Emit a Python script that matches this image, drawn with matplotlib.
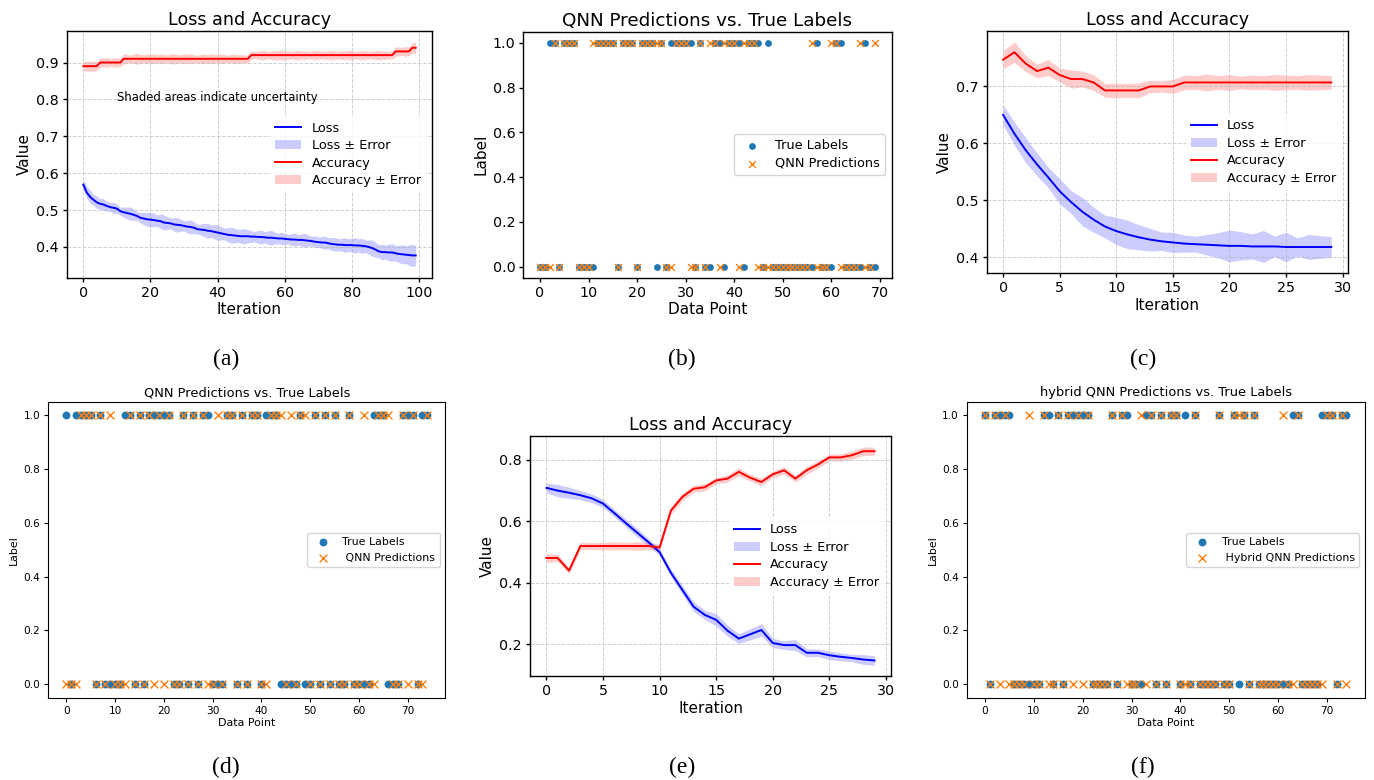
import matplotlib
matplotlib.use("Agg")
import matplotlib.pyplot as plt
import numpy as np

W, H, DPI = 1374, 780, 100

# ---------------- (a) 100-iteration run ----------------
iter_a = np.arange(100)
loss_a = [0.569, 0.548, 0.536, 0.528, 0.521, 0.517, 0.515, 0.511, 0.508, 0.506,
          0.504, 0.497, 0.494, 0.492, 0.490, 0.487, 0.484, 0.479, 0.477, 0.475,
          0.474, 0.473, 0.471, 0.470, 0.466, 0.465, 0.464, 0.461, 0.460, 0.459,
          0.457, 0.455, 0.454, 0.452, 0.448, 0.447, 0.446, 0.444, 0.443, 0.441,
          0.439, 0.437, 0.435, 0.433, 0.432, 0.431, 0.430, 0.429, 0.429, 0.429,
          0.428, 0.428, 0.427, 0.427, 0.426, 0.425, 0.425, 0.424, 0.423, 0.423,
          0.422, 0.421, 0.420, 0.420, 0.419, 0.419, 0.418, 0.417, 0.416, 0.414,
          0.413, 0.412, 0.412, 0.410, 0.408, 0.407, 0.406, 0.406, 0.405, 0.405,
          0.405, 0.404, 0.404, 0.403, 0.402, 0.400, 0.397, 0.393, 0.388, 0.386,
          0.386, 0.385, 0.385, 0.383, 0.381, 0.380, 0.379, 0.378, 0.377, 0.377]
loss_err_a = [0.014, 0.016, 0.018, 0.015, 0.017, 0.014, 0.016, 0.013, 0.012, 0.015,
              0.013, 0.011, 0.014, 0.016, 0.018, 0.015, 0.012, 0.014, 0.017, 0.019,
              0.020, 0.018, 0.016, 0.019, 0.021, 0.017, 0.015, 0.018, 0.020, 0.016,
              0.014, 0.017, 0.019, 0.016, 0.013, 0.015, 0.018, 0.020, 0.017, 0.019,
              0.021, 0.018, 0.016, 0.019, 0.022, 0.020, 0.017, 0.019, 0.021, 0.018,
              0.016, 0.014, 0.017, 0.019, 0.015, 0.018, 0.020, 0.016, 0.014, 0.017,
              0.015, 0.013, 0.016, 0.018, 0.014, 0.017, 0.019, 0.015, 0.013, 0.016,
              0.014, 0.016, 0.018, 0.015, 0.017, 0.019, 0.016, 0.018, 0.020, 0.017,
              0.019, 0.021, 0.018, 0.020, 0.017, 0.019, 0.022, 0.020, 0.018, 0.021,
              0.019, 0.022, 0.024, 0.021, 0.023, 0.026, 0.024, 0.028, 0.030, 0.027]
acc_a = [0.89, 0.89, 0.89, 0.89, 0.89, 0.90, 0.90, 0.90, 0.90, 0.90,
         0.90, 0.90, 0.91, 0.91, 0.91, 0.91, 0.91, 0.91, 0.91, 0.91,
         0.91, 0.91, 0.91, 0.91, 0.91, 0.91, 0.91, 0.91, 0.91, 0.91,
         0.91, 0.91, 0.91, 0.91, 0.91, 0.91, 0.91, 0.91, 0.91, 0.91,
         0.91, 0.91, 0.91, 0.91, 0.91, 0.91, 0.91, 0.91, 0.91, 0.91,
         0.92, 0.92, 0.92, 0.92, 0.92, 0.92, 0.92, 0.92, 0.92, 0.92,
         0.92, 0.92, 0.92, 0.92, 0.92, 0.92, 0.92, 0.92, 0.92, 0.92,
         0.92, 0.92, 0.92, 0.92, 0.92, 0.92, 0.92, 0.92, 0.92, 0.92,
         0.92, 0.92, 0.92, 0.92, 0.92, 0.92, 0.92, 0.92, 0.92, 0.92,
         0.92, 0.92, 0.92, 0.93, 0.93, 0.93, 0.93, 0.93, 0.94, 0.94]
acc_err_a = [0.012, 0.014, 0.013, 0.015, 0.011, 0.013, 0.012, 0.014, 0.010, 0.012,
             0.013, 0.011, 0.014, 0.012, 0.010, 0.013, 0.015, 0.012, 0.011, 0.013,
             0.012, 0.014, 0.011, 0.013, 0.012, 0.010, 0.013, 0.014, 0.012, 0.011,
             0.013, 0.012, 0.014, 0.011, 0.010, 0.012, 0.013, 0.011, 0.014, 0.012,
             0.011, 0.013, 0.012, 0.010, 0.012, 0.013, 0.011, 0.012, 0.010, 0.011,
             0.012, 0.010, 0.011, 0.013, 0.012, 0.010, 0.011, 0.013, 0.012, 0.014,
             0.012, 0.011, 0.010, 0.012, 0.013, 0.011, 0.012, 0.010, 0.011, 0.013,
             0.012, 0.010, 0.011, 0.012, 0.013, 0.011, 0.010, 0.012, 0.011, 0.013,
             0.012, 0.010, 0.011, 0.013, 0.012, 0.010, 0.011, 0.012, 0.013, 0.011,
             0.012, 0.010, 0.011, 0.013, 0.012, 0.011, 0.013, 0.012, 0.014, 0.015]

# ---------------- (b) QNN predictions, 70 samples ----------------
true_b = [0, 0, 1, 1, 0, 1, 1, 1, 0, 0,
          0, 0, 1, 1, 1, 1, 0, 1, 1, 1,
          0, 1, 1, 1, 0, 1, 0, 1, 1, 1,
          1, 1, 0, 1, 0, 0, 1, 1, 0, 1,
          1, 1, 0, 1, 1, 1, 0, 1, 0, 0,
          0, 0, 0, 0, 0, 0, 0, 1, 0, 0,
          0, 1, 1, 0, 0, 0, 0, 1, 0, 0]
pred_b = [0, 0, 0, 1, 0, 1, 1, 1, 0, 0,
          0, 1, 1, 1, 1, 1, 0, 1, 1, 1,
          0, 1, 1, 1, 1, 1, 0, 0, 1, 1,
          1, 0, 0, 1, 0, 1, 1, 0, 1, 1,
          1, 0, 1, 1, 1, 0, 0, 0, 0, 0,
          0, 0, 0, 0, 0, 0, 1, 0, 0, 0,
          1, 1, 0, 0, 0, 0, 1, 0, 0, 1]

# ---------------- (c) 30-iteration run ----------------
iter_c = np.arange(30)
loss_c = [0.650, 0.617, 0.588, 0.563, 0.540, 0.516, 0.497, 0.480, 0.466, 0.454,
          0.446, 0.440, 0.435, 0.431, 0.428, 0.426, 0.424, 0.423, 0.422, 0.421,
          0.420, 0.420, 0.419, 0.419, 0.419, 0.418, 0.418, 0.418, 0.418, 0.418]
loss_err_c = [0.018, 0.020, 0.022, 0.020, 0.018, 0.022, 0.020, 0.025, 0.022, 0.020,
              0.024, 0.025, 0.022, 0.020, 0.016, 0.018, 0.015, 0.014, 0.018, 0.022,
              0.028, 0.025, 0.022, 0.028, 0.018, 0.026, 0.016, 0.022, 0.020, 0.018]
acc_c = [0.747, 0.760, 0.740, 0.727, 0.733, 0.720, 0.713, 0.713, 0.707, 0.693,
         0.693, 0.693, 0.693, 0.700, 0.700, 0.700, 0.707, 0.707, 0.707, 0.707,
         0.707, 0.707, 0.707, 0.707, 0.707, 0.707, 0.707, 0.707, 0.707, 0.707]
acc_err_c = [0.016, 0.018, 0.014, 0.012, 0.014, 0.012, 0.016, 0.014, 0.014, 0.012,
             0.013, 0.012, 0.013, 0.011, 0.010, 0.012, 0.013, 0.012, 0.015, 0.012,
             0.014, 0.011, 0.013, 0.012, 0.014, 0.013, 0.012, 0.014, 0.013, 0.012]

# ---------------- (d) QNN predictions, 75 samples ----------------
true_d = [1, 0, 1, 1, 1, 1, 0, 1, 0, 0,
          0, 0, 1, 1, 0, 1, 0, 1, 1, 1,
          1, 1, 0, 0, 1, 0, 1, 0, 1, 1,
          0, 0, 0, 1, 1, 0, 1, 0, 1, 1,
          0, 1, 1, 1, 0, 0, 0, 0, 1, 0,
          0, 1, 0, 1, 0, 1, 0, 0, 1, 0,
          0, 0, 0, 1, 1, 1, 0, 0, 0, 1,
          1, 1, 0, 1, 1]
pred_d = [0, 0, 0, 1, 1, 1, 0, 1, 0, 1,
          0, 0, 0, 1, 0, 1, 0, 1, 0, 1,
          0, 1, 0, 0, 1, 0, 1, 0, 1, 0,
          0, 1, 0, 1, 1, 0, 1, 0, 1, 1,
          0, 0, 1, 1, 1, 0, 1, 0, 1, 1,
          0, 1, 0, 1, 0, 1, 0, 0, 1, 0,
          0, 1, 0, 0, 1, 1, 1, 0, 0, 1,
          0, 1, 0, 0, 1]

# ---------------- (e) 30-iteration run ----------------
iter_e = np.arange(30)
loss_e = [0.709, 0.700, 0.693, 0.685, 0.675, 0.658, 0.627, 0.595, 0.564, 0.533,
          0.500, 0.433, 0.378, 0.323, 0.296, 0.280, 0.245, 0.219, 0.233, 0.247,
          0.205, 0.198, 0.198, 0.173, 0.173, 0.165, 0.160, 0.156, 0.151, 0.148]
loss_err_e = [0.016, 0.020, 0.018, 0.015, 0.014, 0.013, 0.012, 0.013, 0.014, 0.012,
              0.010, 0.012, 0.014, 0.016, 0.015, 0.020, 0.018, 0.016, 0.018, 0.020,
              0.015, 0.014, 0.018, 0.013, 0.012, 0.014, 0.013, 0.012, 0.016, 0.015]
acc_e = [0.481, 0.481, 0.440, 0.520, 0.520, 0.520, 0.520, 0.520, 0.520, 0.520,
         0.515, 0.635, 0.679, 0.706, 0.711, 0.733, 0.739, 0.761, 0.742, 0.728,
         0.753, 0.766, 0.739, 0.766, 0.785, 0.808, 0.808, 0.815, 0.828, 0.828]
acc_err_e = [0.014, 0.012, 0.010, 0.012, 0.011, 0.012, 0.013, 0.012, 0.014, 0.012,
             0.010, 0.012, 0.013, 0.011, 0.012, 0.010, 0.012, 0.013, 0.011, 0.012,
             0.010, 0.012, 0.011, 0.013, 0.012, 0.011, 0.012, 0.013, 0.014, 0.013]
yticks_e = [0.2, 0.4, 0.6, 0.8]

# ---------------- (f) hybrid QNN predictions, 75 samples ----------------
true_f = [1, 0, 1, 1, 1, 1, 0, 0, 0, 0,
          0, 0, 1, 1, 0, 1, 0, 1, 1, 1,
          1, 1, 0, 0, 0, 0, 1, 0, 1, 1,
          0, 0, 0, 1, 1, 0, 1, 0, 1, 1,
          0, 1, 0, 1, 0, 0, 0, 0, 1, 0,
          0, 1, 0, 1, 0, 1, 0, 0, 0, 0,
          0, 0, 0, 1, 1, 0, 0, 0, 0, 1,
          1, 1, 0, 1, 1]
pred_f = [1, 0, 1, 0, 1, 0, 0, 0, 0, 1,
          0, 0, 1, 0, 0, 1, 0, 1, 0, 1,
          0, 1, 0, 0, 0, 0, 1, 0, 1, 0,
          0, 0, 1, 0, 1, 0, 1, 0, 1, 1,
          0, 0, 0, 1, 0, 0, 0, 0, 1, 0,
          0, 1, 1, 1, 0, 1, 0, 0, 0, 0,
          0, 1, 0, 0, 1, 0, 0, 0, 0, 0,
          1, 1, 0, 1, 0]

captions = ["(a)", "(b)", "(c)", "(d)", "(e)", "(f)"]

fig = plt.figure(figsize=(W / DPI, H / DPI), dpi=DPI)


def axes_px(left, top, right, bottom):
    return fig.add_axes([left / W, 1 - bottom / H, (right - left) / W, (bottom - top) / H])


def style_axes(ax, tick_fs, frame_lw):
    for s in ax.spines.values():
        s.set_linewidth(frame_lw)
    ax.tick_params(labelsize=tick_fs, length=3, width=frame_lw, pad=2.7)


def curve_panel(ax, x, loss, loss_err, acc, acc_err, note=None):
    loss = np.asarray(loss); loss_err = np.asarray(loss_err)
    acc = np.asarray(acc); acc_err = np.asarray(acc_err)
    ax.plot(x, loss, color="blue", lw=1.4, label="Loss")
    ax.fill_between(x, loss - loss_err, loss + loss_err, color="blue", alpha=0.2,
                    linewidth=0, label="Loss ± Error")
    ax.plot(x, acc, color="red", lw=1.4, label="Accuracy")
    ax.fill_between(x, acc - acc_err, acc + acc_err, color="red", alpha=0.2,
                    linewidth=0, label="Accuracy ± Error")
    ax.grid(True, linestyle="--", color="#b0b0b0", alpha=0.6, lw=0.7)
    ax.set_title("Loss and Accuracy", fontsize=12.6, pad=4.2)
    ax.set_xlabel("Iteration", fontsize=11, labelpad=2)
    ax.set_ylabel("Value", fontsize=11, labelpad=3)
    style_axes(ax, 10.3, 1.0)
    leg = ax.legend(loc="center right", fontsize=9.3, frameon=True, framealpha=0.8,
                    labelspacing=0.35, borderaxespad=0.5)
    leg.get_frame().set_edgecolor("none")
    if note:
        ax.text(10, 0.805, note, fontsize=8.4, va="center", ha="left")


def label_panel(ax, true, pred, title, pred_label, fs_title, fs_label, fs_tick, fs_leg,
                size, frame_lw, spacing):
    idx = np.arange(len(true))
    ax.scatter(idx, true, s=size, color="#1f77b4", marker="o", label="True Labels",
               linewidths=0)
    ax.scatter(idx, pred, s=size, color="#ff7f0e", marker="x", label=pred_label,
               linewidths=1.0)
    ax.set_title(title, fontsize=fs_title, pad=4.3)
    ax.set_xlabel("Data Point", fontsize=fs_label, labelpad=2)
    ax.set_ylabel("Label", fontsize=fs_label, labelpad=3)
    style_axes(ax, fs_tick, frame_lw)
    ax.legend(loc="center right", fontsize=fs_leg, labelspacing=spacing)


# (a)
ax_a = axes_px(66.7, 31, 432.3, 277.7)
curve_panel(ax_a, iter_a, loss_a, loss_err_a, acc_a, acc_err_a,
            note="Shaded areas indicate uncertainty")

# (b)
ax_b = axes_px(523.3, 31.7, 891.7, 277.7)
label_panel(ax_b, true_b, pred_b, "QNN Predictions vs. True Labels", "QNN Predictions",
            13.2, 11, 10.3, 9.3, 24, 1.0, 0.35)

# (c)
ax_c = axes_px(986.7, 31, 1347.7, 273.4)
curve_panel(ax_c, iter_c, loss_c, loss_err_c, acc_c, acc_err_c)

# (d)
ax_d = axes_px(48.3, 402, 445.3, 697.7)
label_panel(ax_d, true_d, pred_d, "QNN Predictions vs. True Labels", " QNN Predictions",
            9.4, 7.9, 7.6, 7.9, 32, 0.8, 0.5)

# (e)
ax_e = axes_px(530, 436, 891, 676)
curve_panel(ax_e, iter_e, loss_e, loss_err_e, acc_e, acc_err_e)
ax_e.set_yticks(yticks_e)

# (f)
ax_f = axes_px(967, 402, 1364.5, 697.7)
label_panel(ax_f, true_f, pred_f, "hybrid QNN Predictions vs. True Labels",
            " Hybrid QNN Predictions", 9.4, 7.9, 7.6, 7.9, 32, 0.8, 0.5)

# sub-figure captions
cap_pos = [(226, 359), (682, 359), (1143, 359), (226, 767), (682, 767), (1143, 767)]
for text, (cx, cy) in zip(captions, cap_pos):
    fig.text(cx / W, 1 - cy / H, text, fontsize=17, family="Liberation Serif",
             ha="center", va="center")

fig.savefig("out.png", dpi=DPI)
